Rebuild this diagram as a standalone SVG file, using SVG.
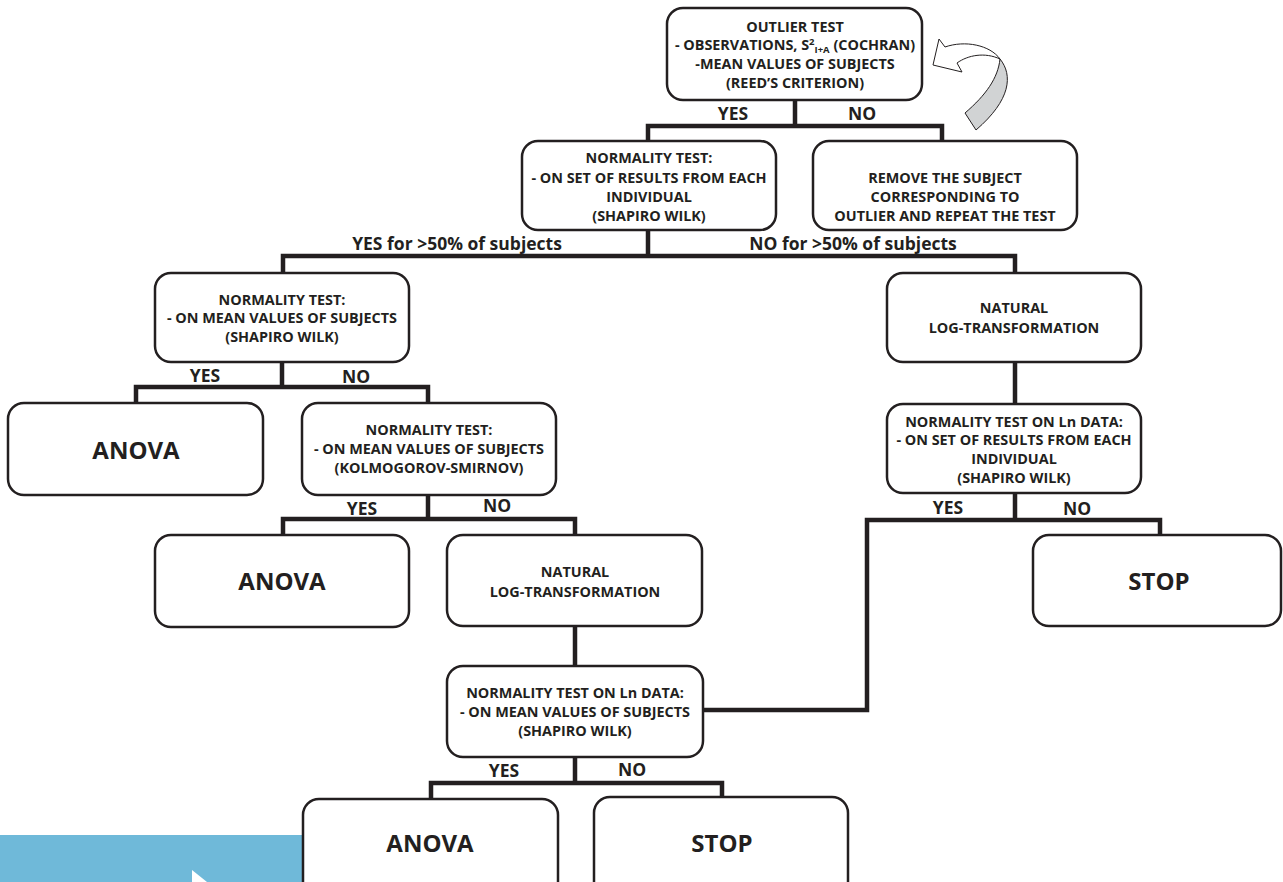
<svg xmlns="http://www.w3.org/2000/svg" width="1283" height="882" viewBox="0 0 1283 882">
<style>
.box{fill:#fff;stroke:#231f20;stroke-width:2.5}
.con{fill:none;stroke:#231f20;stroke-width:4.5;stroke-linejoin:miter;stroke-linecap:square}
text{font-family:"Open Sans","Liberation Sans",sans-serif;font-weight:bold;fill:#231f20;text-anchor:middle}
.s{font-size:14.4px}
.l{font-size:17.5px}
.b{font-size:24px}
</style>
<rect x="0" y="835" width="302" height="47" fill="#6fb9d9"/>
<polygon points="192,870 207,882 192,882" fill="#fff"/>
<g id="connectors">
<path class="con" d="M795,100 V126 M648,140 V126 H942 V140"/>
<path class="con" d="M648,230 V256 M283,273 V256 H1015 V273"/>
<path class="con" d="M282,362 V387 M136,403 V387 H428 V403"/>
<path class="con" d="M428,495 V519 M283,535 V519 H575 V535"/>
<path class="con" d="M575,626 V666"/>
<path class="con" d="M575,757 V783 M431,800 V783 H722 V797"/>
<path class="con" d="M1015,362 V404"/>
<path class="con" d="M1015,493 V520 M1160,535 V520 H867 V710 H703"/>
</g>
<g id="loop-arrow">
<path d="M1000,59 C1013,75 1011,100 976,130 L965,113 C986,95 998,78 1000,59 Z" fill="#d1d3d4" stroke="#231f20" stroke-width="1"/>
<path d="M933,65 L939,39 L945,47 C965,40 990,45 1000,59 C985,52 968,55 957,63 L962,72 Z" fill="#fff" stroke="#231f20" stroke-width="1"/>
</g>
<g id="outlier">
<rect class="box" x="667" y="8" width="255" height="92" rx="16"/>
<text class="s" x="795" y="32">OUTLIER TEST</text>
<text class="s" x="795" y="50">- OBSERVATIONS, S<tspan font-size="9.5" dy="-5">2</tspan><tspan font-size="9.5" dy="8">I+A</tspan><tspan dy="-3"> (COCHRAN)</tspan></text>
<text class="s" x="795" y="69">-MEAN VALUES OF SUBJECTS</text>
<text class="s" x="795" y="88">(REED’S CRITERION)</text>
</g>
<text class="l" x="733" y="120">YES</text>
<text class="l" x="862" y="120">NO</text>
<g id="norm1">
<rect class="box" x="522" y="141" width="254" height="89" rx="16"/>
<text class="s" x="649" y="163">NORMALITY TEST:</text>
<text class="s" x="649" y="183">- ON SET OF RESULTS FROM EACH</text>
<text class="s" x="649" y="202">INDIVIDUAL</text>
<text class="s" x="649" y="221">(SHAPIRO WILK)</text>
</g>
<g id="remove">
<rect class="box" x="813" y="141" width="264" height="89" rx="16"/>
<text class="s" x="945" y="183">REMOVE THE SUBJECT</text>
<text class="s" x="945" y="202">CORRESPONDING TO</text>
<text class="s" x="945" y="221">OUTLIER AND REPEAT THE TEST</text>
</g>
<text class="l" x="457" y="250">YES for &gt;50% of subjects</text>
<text class="l" x="853" y="250">NO for &gt;50% of subjects</text>
<g id="norm2">
<rect class="box" x="155" y="273" width="254" height="89" rx="16"/>
<text class="s" x="282" y="305">NORMALITY TEST:</text>
<text class="s" x="282" y="323">- ON MEAN VALUES OF SUBJECTS</text>
<text class="s" x="282" y="342">(SHAPIRO WILK)</text>
</g>
<text class="l" x="205" y="382">YES</text>
<text class="l" x="356" y="383">NO</text>
<g id="anova1">
<rect class="box" x="8" y="403" width="255" height="92" rx="16"/>
<text class="b" x="136" y="459">ANOVA</text>
</g>
<g id="ks">
<rect class="box" x="302" y="403" width="254" height="92" rx="16"/>
<text class="s" x="429" y="435">NORMALITY TEST:</text>
<text class="s" x="429" y="454">- ON MEAN VALUES OF SUBJECTS</text>
<text class="s" x="429" y="473">(KOLMOGOROV-SMIRNOV)</text>
</g>
<text class="l" x="362" y="515">YES</text>
<text class="l" x="497" y="512">NO</text>
<g id="anova2">
<rect class="box" x="155" y="535" width="254" height="92" rx="16"/>
<text class="b" x="282" y="590">ANOVA</text>
</g>
<g id="ln1">
<rect class="box" x="447" y="535" width="255" height="91" rx="16"/>
<text class="s" x="575" y="577">NATURAL</text>
<text class="s" x="575" y="597">LOG-TRANSFORMATION</text>
</g>
<g id="normln1">
<rect class="box" x="447" y="666" width="256" height="91" rx="16"/>
<text class="s" x="575" y="698">NORMALITY TEST ON Ln DATA:</text>
<text class="s" x="575" y="717">- ON MEAN VALUES OF SUBJECTS</text>
<text class="s" x="575" y="736">(SHAPIRO WILK)</text>
</g>
<text class="l" x="504" y="777">YES</text>
<text class="l" x="632" y="776">NO</text>
<g id="anova3">
<rect class="box" x="303" y="799" width="255" height="110" rx="16"/>
<text class="b" x="430" y="852">ANOVA</text>
</g>
<g id="stop2">
<rect class="box" x="594" y="797" width="254" height="110" rx="16"/>
<text class="b" x="722" y="852">STOP</text>
</g>
<g id="ln2">
<rect class="box" x="887" y="273" width="254" height="89" rx="16"/>
<text class="s" x="1014" y="313">NATURAL</text>
<text class="s" x="1014" y="333">LOG-TRANSFORMATION</text>
</g>
<g id="normln2">
<rect class="box" x="887" y="404" width="254" height="89" rx="16"/>
<text class="s" x="1014" y="427">NORMALITY TEST ON Ln DATA:</text>
<text class="s" x="1014" y="445">- ON SET OF RESULTS FROM EACH</text>
<text class="s" x="1014" y="464">INDIVIDUAL</text>
<text class="s" x="1014" y="483">(SHAPIRO WILK)</text>
</g>
<text class="l" x="948" y="514">YES</text>
<text class="l" x="1077" y="515">NO</text>
<g id="stop1">
<rect class="box" x="1033" y="535" width="248" height="91" rx="16"/>
<text class="b" x="1159" y="590">STOP</text>
</g>
</svg>
